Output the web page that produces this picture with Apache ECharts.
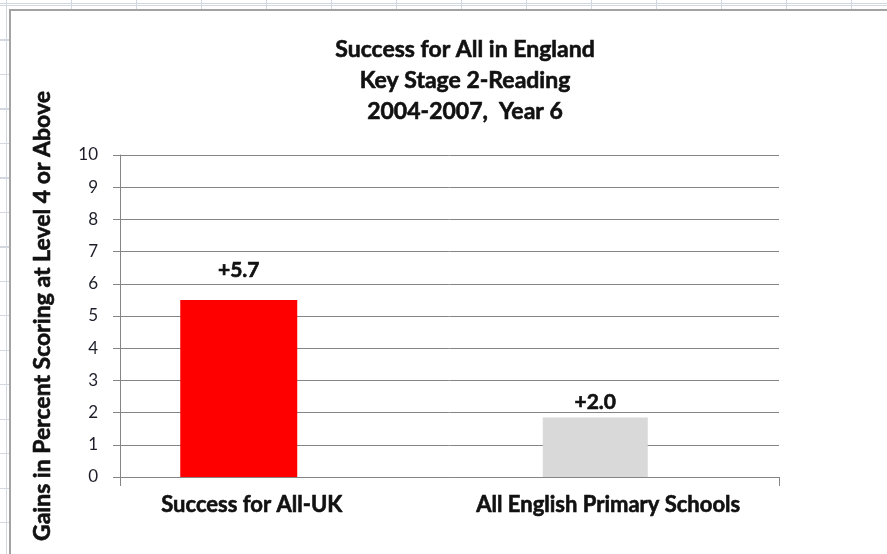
<!DOCTYPE html>
<html>
<head>
<meta charset="utf-8">
<script src="https://cdn.jsdelivr.net/npm/echarts@6/dist/echarts.min.js"></script>
<style>
  html, body { margin: 0; padding: 0; width: 887px; height: 554px; overflow: hidden; }
  body {
    background-color: #ffffff;
    background-image:
      repeating-linear-gradient(90deg, #d3d8e0 0 1px, transparent 1px 65px),
      repeating-linear-gradient(180deg, #d3d8e0 0 1px, transparent 1px 34.5px);
    background-position: 6px 0, 0 5px;
  }
  #frame { position: absolute; left: 9px; top: 9px; right: 0; bottom: 0; background: #fff;
           border-left: 2px solid #a3a3a3; border-top: 2px solid #a3a3a3; }
  #chart { position: absolute; left: 0; top: 0; width: 887px; height: 554px; }
</style>
</head>
<body>
<div id="frame"></div>
<div id="chart"></div>
<script>
// ---- data ----
const titleLines = ['Success for All in England', 'Key Stage 2-Reading', '2004-2007,  Year 6'];
const categories = ['Success for All-UK', 'All English Primary Schools'];
const sfaValues = [5.5, '-'];
const englandValues = ['-', 1.85];
const valueLabels = ['+5.7', '+2.0'];
const yTicks = [0, 10, 1]; // min, max, interval
const yAxisTitle = 'Gains in Percent Scoring at Level 4 or Above';

const FONT = 'Lato, "Open Sans", sans-serif';
const TXT = '#111111';
const GRIDC = '#858585';
const BOLD = { fontFamily: FONT, fontWeight: 'bold', color: TXT, textBorderColor: TXT, textBorderWidth: 0.6 };

const chart = echarts.init(document.getElementById('chart'), null, { renderer: 'canvas' });

const option = {
  backgroundColor: 'transparent',
  animation: false,
  title: {
    text: titleLines.join('\n'),
    left: 460,
    top: 29,
    textAlign: 'center',
    textStyle: Object.assign({}, BOLD, { fontSize: 23, lineHeight: 31 })
  },
  grid: { left: 120, right: 108, top: 155, bottom: 77, containLabel: false },
  xAxis: [
    {
      type: 'category',
      data: categories,
      axisLine: { show: true, lineStyle: { color: GRIDC, width: 1 } },
      axisTick: { show: true, length: 9, lineStyle: { color: GRIDC }, interval: function (i) { return i === 0; } },
      axisLabel: Object.assign({}, BOLD, {
        interval: 0,
        margin: 17,
        fontSize: 22,
        formatter: function (v, i) { return i === 0 ? '{a|' + v + '}' : '{b|' + v + '}'; },
        rich: {
          a: Object.assign({}, BOLD, { fontSize: 22, padding: [0, 66, 0, 0] }),
          b: Object.assign({}, BOLD, { fontSize: 22, padding: [0, 12, 0, 0] })
        }
      }),
      splitLine: { show: false }
    },
    {
      type: 'category',
      data: categories,
      show: false
    }
  ],
  yAxis: {
    type: 'value',
    min: yTicks[0], max: yTicks[1], interval: yTicks[2],
    name: yAxisTitle,
    nameLocation: 'middle',
    nameRotate: 90,
    nameGap: 66,
    nameTextStyle: Object.assign({}, BOLD, { fontSize: 23 }),
    axisLine: { show: true, lineStyle: { color: GRIDC, width: 1 } },
    axisTick: { show: true, length: 7, lineStyle: { color: GRIDC } },
    axisLabel: { margin: 22, fontFamily: FONT, fontSize: 17, color: '#1e1e2a' },
    splitLine: { show: true, lineStyle: { color: GRIDC, width: 1 } }
  },
  series: [
    {
      type: 'bar', xAxisIndex: 0, barWidth: 117, barGap: '0%',
      itemStyle: { color: '#ff0000' },
      label: Object.assign({}, BOLD, {
        show: true, position: 'top', distance: 19, fontSize: 21,
        formatter: function (p) { return valueLabels[p.dataIndex]; }
      }),
      data: sfaValues
    },
    { type: 'bar', xAxisIndex: 0, barWidth: 92, barGap: '0%', data: [], silent: true },
    {
      type: 'bar', xAxisIndex: 1, barWidth: 105, barGap: '0%',
      itemStyle: { color: '#d9d9d9' },
      label: Object.assign({}, BOLD, {
        show: true, position: 'top', distance: 5, fontSize: 21,
        formatter: function (p) { return valueLabels[p.dataIndex]; }
      }),
      data: englandValues
    },
    { type: 'bar', xAxisIndex: 1, barWidth: 38, barGap: '0%', data: [], silent: true }
  ]
};
chart.setOption(option);
</script>
</body>
</html>
